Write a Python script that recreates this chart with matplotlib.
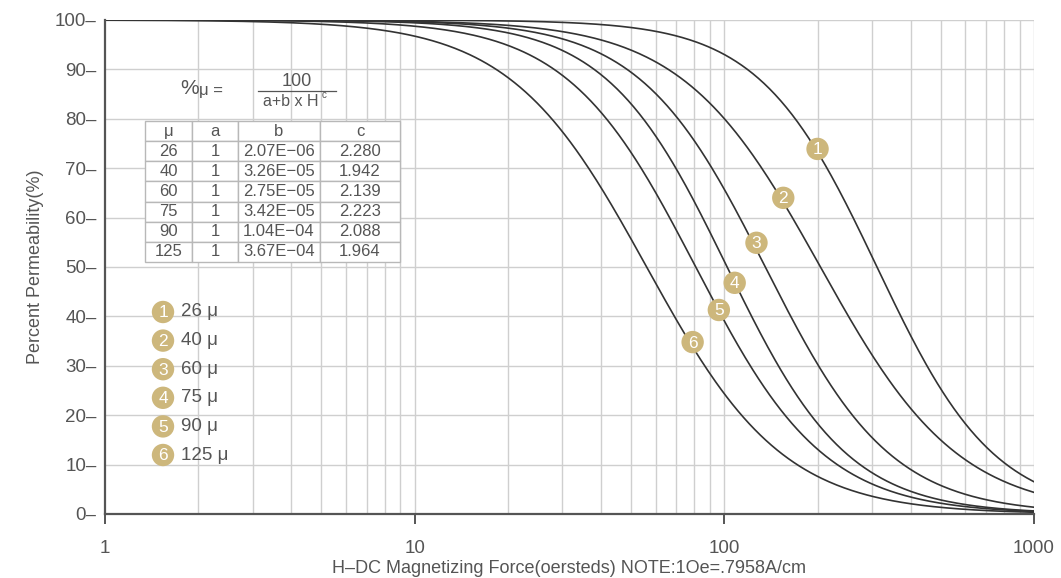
import matplotlib.pyplot as plt
import numpy as np

plt.rcParams['font.family'] = ['Liberation Sans', 'DejaVu Sans']

# table from the chart: %mu = 100 / (a + b * H^c)
perm = ['26', '40', '60', '75', '90', '125']
a_vals = [1, 1, 1, 1, 1, 1]
b_vals = ['2.07E-06', '3.26E-05', '2.75E-05', '3.42E-05', '1.04E-04', '3.67E-04']
c_vals = ['2.280', '1.942', '2.139', '2.223', '2.088', '1.964']

# numbered labels on the curves (H, percent)
label_h = [200, 155, 127, 108, 96, 79]
label_pct = [73.9, 64.0, 54.9, 46.8, 41.3, 34.8]

x_ticks = [1, 10, 100, 1000]
y_ticks = [0, 10, 20, 30, 40, 50, 60, 70, 80, 90, 100]

gold = '#cdb77c'
txt = '#555555'
line_col = '#333333'


def main():
	fig = plt.figure(figsize=(10.61, 5.78), dpi=100)
	W, H_px = 1061, 578
	ax = fig.add_axes([105 / W, 1 - 514 / H_px, (1034 - 105) / W, (514 - 20) / H_px])

	hh = np.logspace(0, 3, 500)
	for i in range(len(perm)):
		b = float(b_vals[i])
		c = float(c_vals[i])
		pct = 100.0 / (a_vals[i] + b * hh ** c)
		ax.plot(hh, pct, color=line_col, lw=1.2, zorder=3)

	ax.set_xscale('log')
	ax.set_xlim(1, 1000)
	ax.set_ylim(0, 100)

	# grid
	for dec in [1, 10, 100]:
		for m in range(2, 11):
			ax.axvline(dec * m, color='#cfcfcf', lw=1.0, zorder=1)
	for y in y_ticks[1:]:
		ax.axhline(y, color='#cfcfcf', lw=1.0, zorder=1)

	for s in ['top', 'right']:
		ax.spines[s].set_visible(False)
	for s in ['left', 'bottom']:
		ax.spines[s].set_color('#555555')
		ax.spines[s].set_linewidth(1.6)
		ax.spines[s].set_zorder(4)

	ax.set_yticks(y_ticks)
	ax.set_yticklabels([str(v) + '\u2013' for v in y_ticks])
	ax.tick_params(axis='y', length=0, pad=6, labelsize=13.5, labelcolor=txt)
	ax.set_xticks(x_ticks)
	ax.set_xticklabels([str(v) for v in x_ticks])
	ax.xaxis.set_minor_locator(plt.NullLocator())
	ax.tick_params(axis='x', length=7, width=1.4, color='#555555', pad=12,
				labelsize=13.5, labelcolor=txt)

	ax.set_ylabel('Percent Permeability(%)', fontsize=13, color=txt, labelpad=8)
	ax.set_xlabel('H\u2013DC Magnetizing Force(oersteds) NOTE:1Oe=.7958A/cm',
				fontsize=13, color=txt, labelpad=2)

	# formula
	def px(x, y):
		return ((x - 105) / 929.0, (514 - y) / 494.0)
	ax.text(*px(180, 89), '%', transform=ax.transAxes, fontsize=15, color=txt, va='center')
	ax.text(*px(199, 91), '\u03bc =', transform=ax.transAxes, fontsize=12, color=txt, va='center')
	ax.text(*px(297, 81), '100', transform=ax.transAxes, fontsize=13, color=txt,
			ha='center', va='center')
	x0, y0 = px(258, 91)
	x1, _ = px(336, 91)
	ax.plot([x0, x1], [y0, y0], transform=ax.transAxes, color=txt, lw=0.9, clip_on=False)
	ax.text(*px(263, 101), 'a+b x H', transform=ax.transAxes, fontsize=11.5, color=txt,
			va='center')
	ax.text(*px(322, 95), 'c', transform=ax.transAxes, fontsize=7, color=txt, va='center')

	# parameter table
	cells = [[perm[i], str(a_vals[i]), b_vals[i].replace('-', '\u2212'), c_vals[i]]
			for i in range(len(perm))]
	bx0, by1 = px(145, 121)
	bx1, by0 = px(400, 262)
	tb = ax.table(cellText=cells, colLabels=['\u03bc', 'a', 'b', 'c'],
				bbox=[bx0, by0, bx1 - bx0, by1 - by0], cellLoc='center',
				colWidths=[47, 46, 82, 80])
	tb.auto_set_font_size(False)
	tb.set_fontsize(12)
	tb.set_zorder(5)
	for key, cell in tb.get_celld().items():
		cell.set_edgecolor('#b8b8b8')
		cell.set_linewidth(1.0)
		cell.set_facecolor('white')
		cell.get_text().set_color(txt)

	# numbered markers on curves
	ax.scatter(label_h, label_pct, s=260, color=gold, zorder=6, edgecolors='none')
	for i in range(len(label_h)):
		ax.text(label_h[i], label_pct[i] - 0.2, str(i + 1), color='white', fontsize=12.5,
				ha='center', va='center', zorder=7)

	# legend on the left
	for i in range(len(perm)):
		lx, ly = px(163, 312 + i * 28.6)
		ax.scatter([lx], [ly], s=260, color=gold, transform=ax.transAxes, zorder=6,
				edgecolors='none', clip_on=False)
		ax.text(lx, ly - 0.002, str(i + 1), transform=ax.transAxes, color='white',
				fontsize=12.5, ha='center', va='center', zorder=7)
		tx, ty = px(181, 312 + i * 28.6)
		ax.text(tx, ty, perm[i] + ' \u03bc', transform=ax.transAxes, color=txt,
				fontsize=13.5, ha='left', va='center', zorder=7)

	fig.savefig('out.png', dpi=100)


if __name__ == '__main__':
	main()
